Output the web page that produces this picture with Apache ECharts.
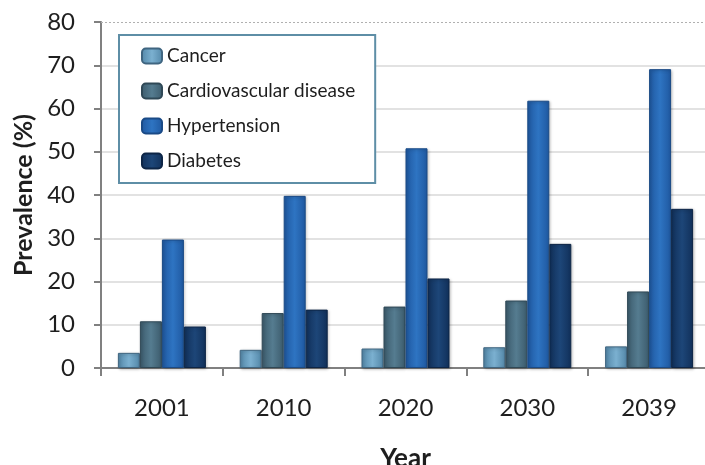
<!DOCTYPE html>
<html>
<head>
<meta charset="utf-8">
<script src="https://cdn.jsdelivr.net/npm/echarts@6/dist/echarts.min.js"></script>
<style>html,body{margin:0;padding:0;background:#fff;}#c{width:705px;height:465px;}</style>
</head>
<body>
<div id="c"></div>
<script>
var years = ['2001', '2010', '2020', '2030', '2039'];
var seriesNames = ['Cancer', 'Cardiovascular disease', 'Hypertension', 'Diabetes'];
var cancer = [3.5, 4.2, 4.5, 4.8, 5.0];
var cardiovascular = [10.8, 12.7, 14.2, 15.6, 17.7];
var hypertension = [29.7, 39.8, 50.8, 61.8, 69.1];
var diabetes = [9.6, 13.5, 20.7, 28.7, 36.8];
var yTicks = [0, 10, 20, 30, 40, 50, 60, 70, 80];

var palettes = [
  {edge: '#5387a8', mid: '#7bb0d0', border: '#3f6580'},
  {edge: '#3c5b6c', mid: '#557c90', border: '#2f4856'},
  {edge: '#1f58a0', mid: '#2e74c2', border: '#1a4a86'},
  {edge: '#11305a', mid: '#1d4678', border: '#0d2546'}
];
function grad(p) {
  return new echarts.graphic.LinearGradient(0, 0, 1, 0, [
    {offset: 0, color: p.edge},
    {offset: 0.5, color: p.mid},
    {offset: 1, color: p.edge}
  ]);
}
var dataSets = [cancer, cardiovascular, hypertension, diabetes];
var series = dataSets.map(function (d, i) {
  var s = {
    name: seriesNames[i],
    type: 'bar',
    data: d,
    barWidth: 22,
    barGap: '0%',
    itemStyle: {
      color: grad(palettes[i]),
      borderColor: palettes[i].border,
      borderWidth: 1,
      shadowColor: 'rgba(0,0,0,0.25)',
      shadowBlur: 3,
      shadowOffsetX: 1,
      shadowOffsetY: 1
    }
  };
  if (i === 0) {
    s.markLine = {
      silent: true,
      symbol: 'none',
      label: {show: false},
      lineStyle: {color: '#b0b0b0', type: [2, 2], width: 1},
      data: [{yAxis: yTicks[yTicks.length - 1]}]
    };
  }
  return s;
});

var chart = echarts.init(document.getElementById('c'));
chart.setOption({
  animation: false,
  textStyle: {fontFamily: 'Lato'},
  grid: {left: 101, right: -5, top: 22, bottom: 97, containLabel: false, outerBoundsMode: 'none'},
  legend: {
    orient: 'vertical',
    left: 119,
    top: 35,
    data: seriesNames,
    itemWidth: 20,
    itemHeight: 15,
    itemGap: 15,
    padding: [11, 20, 12, 22],
    borderColor: '#5e8ea6',
    borderWidth: 2,
    backgroundColor: '#fff',
    textStyle: {fontFamily: 'Lato', fontSize: 19, color: '#1e1e1e', lineHeight: 20}
  },
  xAxis: {
    type: 'category',
    data: years,
    name: 'Year',
    nameLocation: 'middle',
    nameGap: 78,
    nameTextStyle: {fontFamily: 'Lato', fontSize: 26, fontWeight: 'bold', color: '#1e1e1e'},
    axisLine: {lineStyle: {color: '#808080', width: 2}},
    axisTick: {show: true, length: 8, lineStyle: {color: '#808080', width: 2}},
    axisLabel: {fontFamily: 'Lato', fontSize: 24, color: '#1e1e1e', margin: 28}
  },
  yAxis: {
    type: 'value',
    min: yTicks[0],
    max: yTicks[yTicks.length - 1],
    interval: 10,
    name: 'Prevalence (%)',
    nameLocation: 'middle',
    nameGap: 64,
    nameTextStyle: {fontFamily: 'Lato', fontSize: 25, fontWeight: 'bold', color: '#1e1e1e'},
    axisLine: {show: true, lineStyle: {color: '#808080', width: 2}},
    axisTick: {show: true, length: 7, lineStyle: {color: '#808080', width: 2}},
    axisLabel: {fontFamily: 'Lato', fontSize: 24, color: '#1e1e1e', margin: 26},
    splitLine: {show: true, lineStyle: {color: ['#d9d9d9','#d9d9d9','#d9d9d9','#d9d9d9','#d9d9d9','#d9d9d9','#d9d9d9','#d9d9d9','transparent'], width: 1.5}}
  },
  series: series
});
</script>
</body>
</html>
